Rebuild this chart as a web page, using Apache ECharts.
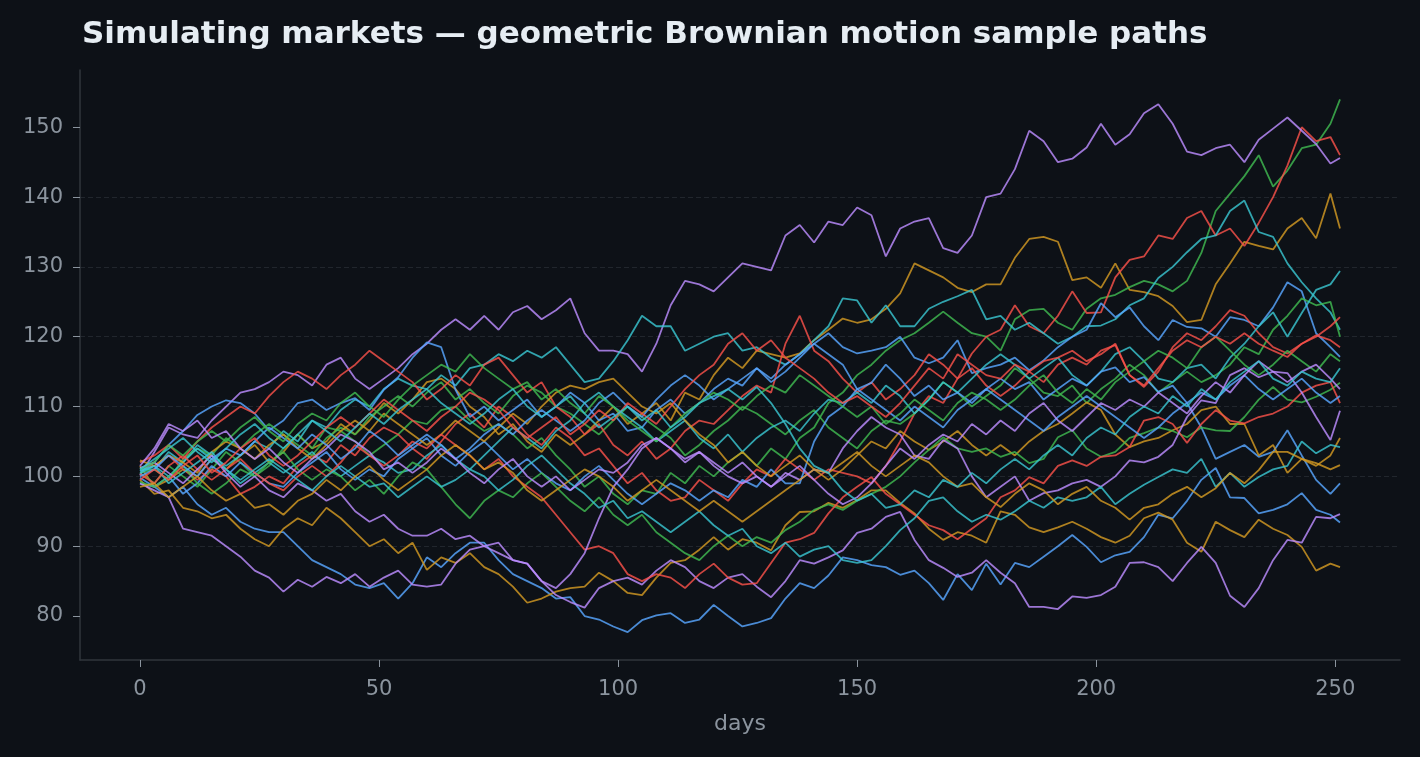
<!DOCTYPE html>
<html>
<head>
<meta charset="utf-8">
<title>GBM sample paths</title>
<script src="https://cdn.jsdelivr.net/npm/echarts@6/dist/echarts.min.js"></script>
<style>
    html, body { margin: 0; padding: 0; background: #0d1117; }
    #chart { width: 1420px; height: 757px; }
</style>
</head>
<body>
<div id="chart"></div>
<script>
var chart = echarts.init(document.getElementById("chart"));

/* sampled days (every 3rd trading day + last one) */
var days = [0,3,6,9,12,15,18,21,24,27,
    30,33,36,39,42,45,48,51,54,57,
    60,63,66,69,72,75,78,81,84,87,
    90,93,96,99,102,105,108,111,114,117,
    120,123,126,129,132,135,138,141,144,147,
    150,153,156,159,162,165,168,171,174,177,
    180,183,186,189,192,195,198,201,204,207,
    210,213,216,219,222,225,228,231,234,237,
    240,243,246,249,251];

var xTicks = [0, 50, 100, 150, 200, 250];
var yTicks = [80, 90, 100, 110, 120, 130, 140, 150];

/* price paths */
var blueA = [99,98.5,97,98.5,96,94.5,95.5,93.5,92.5,92,
    92,90,88,87,86,84.5,84,84.7,82.5,84.7,
    88.4,87,89,90.5,90.5,88,86,85,84,82.5,
    82.7,80,79.5,78.5,77.7,79.4,80.1,80.4,79,79.5,
    81.6,80,78.5,79,79.7,82.5,84.7,84,85.8,88.4,
    88,87.3,87,85.9,86.5,84.7,82.3,86,83.7,87.5,
    84.5,87.6,87,88.5,90,91.6,89.9,87.7,88.7,89.2,
    91.3,94.5,94,96.5,99.5,101.2,97,96.9,94.7,95.2,
    96,97.6,95.2,94.5,93.4];
var goldA = [101.5,98.5,99.5,101,100,102.5,101,103,104.5,102,
    103.5,106,104,105,107.5,106,108,110.5,109,111,
    113.5,114,112.5,110,108.5,106,107.5,105,103.5,106,
    104.5,106,108,110,107.5,109,110.5,108,112,111,
    114.5,117,115.5,118,117.5,117,117.6,119.5,121,122.6,
    122,122.5,124,126.2,130.5,129.5,128.5,127,126.4,127.5,
    127.5,131.3,134,134.3,133.6,128.1,128.5,127,130.5,126.7,
    126.4,125.8,124.4,122.1,122.4,127.5,130.5,133.6,133,132.5,
    135.5,137,134.1,140.5,135.5];
var greenA = [100.5,99,101.5,100,98.5,101,103.5,102,100,101.5,
    104,106,104,107,106.5,105,103,104.5,106,108,
    107.5,109.5,110,108,106.5,107.5,106,104,105.5,103,
    101,98.5,100,97.5,96,98,97.5,100.5,99,101.5,
    100,102,103.5,101.5,104,102.5,105.5,107,110.5,112,
    114.5,116,118,119.5,120.5,122,123.6,122,120.5,120,
    118,122.5,123.8,124,122,121,124,125.5,126,127.1,
    128,127.5,126.5,128,132,138,140.5,143,146,141.5,
    143.8,147,147.5,150.5,154];
var redA = [101,101.5,103,101,99.5,101,100,97.5,98.5,100,
    99,101.5,103,102,104.5,103,105.5,107,106,104,
    102.5,105,107.5,109,107,110,108.5,106,104.5,107,
    105.5,103,104,101.5,99,100.5,98,96.5,97,99.5,
    98,96.5,99,101,100,102.5,101,99.5,101,100.5,
    100,99,101.5,105,109,111.5,110.5,114,117.6,120,
    121,124.5,121.5,120.5,123,126.5,123.4,123.5,128.5,131,
    131.5,134.5,134,137,138,134.5,135.5,133,136.3,140,
    144.5,150,148,148.6,146];
var purpleA = [100.2,103.5,107,106,105.5,108,110,112,112.5,113.5,
    115,114.5,113,116,117,114,112.5,114,115.5,117.5,
    119,121,122.5,121,123,121,123.5,124.4,122.5,123.8,
    125.5,120.5,118,118,117.5,115,119,124.5,128,127.5,
    126.5,128.5,130.5,130,129.5,134.5,136,133.5,136.5,136,
    138.5,137.4,131.5,135.5,136.5,137,132.7,132,134.5,140,
    140.5,144,149.5,148,145,145.5,147.1,150.5,147.5,149,
    152,153.3,150.5,146.5,146,147,147.5,145,148.2,149.8,
    151.4,149.5,147.6,144.8,145.6];
var tealA = [101,101,103.5,102,104.5,103,101.5,103,105,104,
    106.5,105,108,107,109.5,111,110,112.5,114,113,
    112.5,114.5,113,115.5,116,117.5,116.5,118,117,118.5,
    116,113.5,114,116.5,119.5,123,121.5,121.5,118,119,
    120,120.5,118,118.5,117,116,117.5,119.5,121.5,125.5,
    125.2,122,124.5,121.5,121.5,124,125,125.8,126.7,122.5,
    123,121,122,120.5,119,120,121.5,121.6,122.5,124.5,
    125.5,128.4,130,132.1,134,134.5,138,139.5,135,134.3,
    130.5,127.8,125.5,123.5,121];

var blueB = [100.8,102,104.5,106.5,108.8,110,110.9,110.5,109,106.6,
    108,110.5,111,109.5,110.5,111.2,109.5,112.4,114.2,117,
    119.2,118.5,112.4,108.5,110,108,109.5,111,108.5,110,
    112,110.5,108,109,106.5,107,109.5,111,109,110.5,
    112.5,114,113,115.5,114,116,117.5,119,120.5,118.5,
    117.6,118,118.5,120,117,116.2,117,119.5,114.8,115.5,
    116,117,115.2,116.6,118.5,120,121,124.8,122.8,124.2,
    121.5,119.5,122.4,121.4,121.2,120,122.8,122.4,121.5,124.2,
    127.8,126.5,120.5,118.5,117.1];
var goldB = [99.5,97.5,98,95.5,95,94,94.5,92.5,91,90,
    92.5,94,93,95.5,94,92,90,91,89,90.5,
    86.6,88.4,87.6,89,87,86,84.2,81.9,82.5,83.5,
    84,84.2,86.2,85,83.3,83,85.5,87.6,88,89.5,
    91.3,89.5,91,90.5,89.4,93,94.9,95,96.2,95.5,
    96.6,98,98,96.2,94.7,92.5,90.9,92,91.5,90.5,
    95,94.5,92.7,92,92.7,93.5,92.5,91.3,90.5,91.5,
    94,94.8,93.8,90.5,89.2,93.5,92.3,91.3,93.8,92.5,
    91.6,89.9,86.5,87.5,87];
var greenB = [100.5,101,99.5,102.5,104,103,105.5,104,106,107.5,
    106,104.5,103,105.5,107,106,108.5,110,111.5,110,
    112,113.5,111,112.5,110.5,109,111.5,113,112,110,
    109,107.5,106,108,110,108.5,107,105.5,103,104.5,
    106.5,108,110,109,107.5,106,108,109.5,107,105.5,
    104,106.5,108,107.5,109,111,113.5,112,110,111.5,
    113,115.5,114,112,111.5,113,110.5,112.5,114,116,
    114.5,112,113.5,115,113.5,114.5,116,118.5,117.5,121,
    123,125.5,124.5,125,120];
var redB = [102,103,104.5,102.5,105,107,108.5,110,109,111.5,
    113.5,115,114,112.5,114.5,116,118,116.5,115,113.5,
    111,112.5,114.5,113,116,117,114.5,112,113.5,110,
    108.5,106,107.5,104.5,103,105,102.5,104,106.5,108,
    107.5,109.5,111.5,113,112,119,123,118,116.5,114,
    112,113.5,111,112.5,114.5,117.5,116,114,115.5,113,
    111.5,113,115,113.5,116,117,116,118,118.8,114.5,
    112.8,115,118.5,120.5,119.5,121.5,123.8,123,120.5,118.5,
    117.6,119,120,121.5,122.8];
var purpleB = [99,98,97,92.5,92,91.5,90,88.5,86.5,85.5,
    83.5,85.2,84.2,85.6,84.7,86,84.2,85.5,86.5,84.5,
    84.2,84.5,87.5,89.5,90,89,88,87.5,85,83,
    82,81.2,84,85,85.5,84.5,86.5,88,87,85,
    84,85.5,86,84.2,82.7,85,88,87.5,88.4,89.4,
    91.9,92.5,94.2,94.9,90.9,88,86.9,85.6,86.2,88,
    86.2,84.7,81.3,81.3,81,82.8,82.6,83,84.2,87.6,
    87.7,87,85,87.6,89.9,87.6,82.9,81.3,84,88,
    90.9,90.5,94.2,94,94.6];
var cyanB = [100.5,101.5,100,102,104,102.5,101,99,100.5,102,
    100.5,102,103.5,101.5,100,101.5,103,102,100.5,101,
    103,104.5,102.5,101,103,105,107,105.5,104,106.5,
    108,110.5,112,110,108.5,107,105,106.5,108,105.5,
    104,106,103.5,105.5,107,108,106.5,109,111,110.5,
    112,110.5,113,111.5,109,111,113.5,112,114,116,
    117.5,116,114,115.5,117,114.5,113,115,117.5,118.5,
    116.5,114,113.5,115.5,116,114,117,119,121.5,123.5,
    120,123.4,126.7,127.5,129.4];

var blueC = [99.8,98.5,100,97.5,99,101.5,100,102,100.5,99,
    98.5,100.5,102,103.5,101,99.5,101,100,102.5,104,
    105.5,103,101.5,103.5,105,103,101,102.5,100.5,99,
    98,100,101.5,99.5,97.5,96,97.5,99,98,96.5,
    98,97,99.5,98.5,101,99,99,105,108.5,110,
    112.5,113.4,116,114,111.5,113,111,112,110.5,112.5,
    114,112.5,113.5,111,112.5,114,113,115,115.6,113.5,
    114.2,112.1,113,110.5,107,102.5,103.5,104.5,102.8,103.5,
    106.6,103,99.5,97.5,99];
var goldC = [102.3,101.5,103,102,100.5,103.5,105,104,102.5,104.5,
    106,104,102.5,104.5,106.5,108,106.5,109,107.5,106,
    104.5,106,108,106.5,105,107,109,107.5,110,112,
    113,112.5,113.5,114,112,110,109,110.5,108,106,
    104.5,102,103.5,101.5,100,101.5,103,101,99.5,101,
    103,105,104,106.5,105,103.8,105,106.5,104.5,103,
    104.5,103,105,106.5,107.5,109,110.6,109.5,106,104.2,
    105,105.5,106.6,107.5,109.5,110,107.5,107.5,103,104.5,
    100.5,102.5,101.5,103,105.5];
var greenC = [99.2,98.5,100,101.5,99,97.5,99,101,100,102,
    103.5,101,99.5,101,100,98,99.5,97.5,100,102,
    101,98.5,96,94,96.5,98,97,99,100.5,98.5,
    96.5,95,97,94.5,93,94.5,92,90.5,89,88,
    90,91.5,90,91.3,90.5,92.3,93.5,95.2,96,95.2,
    96.5,97.5,98.5,100,102,103.8,105.6,104,103.5,104,
    102.8,103.5,101.9,102.5,105.6,106.6,104,102.8,103.5,105.5,
    106.2,107,106.5,105.6,107,106.6,106.5,108.5,111,112.8,
    111,110.6,111.4,112.4,113.4];
var redC = [100.3,99,101.5,103,101,99.5,101,102.5,100.5,99,
    98,100,101.5,100,102,104.5,103,101.5,103,105,
    104,106,104.5,103,101,102.5,100,98.5,97,94.5,
    92,89.5,90,89,86,85,86,85.5,84,86,
    87.5,85.5,84.5,84.7,87.6,90.5,91,91.9,94.7,97,
    98.5,99.9,97.5,96,94.5,93,92.3,91,92.5,94,
    97,98,99.9,99,101.5,102.3,101.5,102.8,103,104.2,
    108,108.5,107.5,104.8,107.5,109.5,108,107.6,108.5,109,
    110,112,113,113.5,110.5];
var purpleC = [101.2,102,100.5,99,101,103,100.5,98.5,100,98,
    97,99,98,96.5,97.5,95,93.5,94.5,92.5,91.5,
    91.5,92.5,91,91.5,90,90.5,88,87.5,85,84,
    86,89,94,98.5,101,104,105.5,104,102,103.5,
    101.5,100,99,100,98.5,100.5,99.5,101,100.5,104,
    106.5,108.5,107,106,103,102.5,105.2,104,100,97,
    98.5,100,96.5,97.6,98,99,99.5,98.5,100,102.3,
    102,102.8,104.5,108.5,110.9,110.5,114.5,115.5,114.2,115,
    114.8,112,108.5,105.2,109.4];
var tealC = [100.8,101.5,99,100.5,102,103.5,101,99.5,101,102.5,
    101,99.5,98,100,101.5,100,98.5,99,97,98.5,
    100,98.5,99.5,101,100,98,99.5,101.5,103,101,
    99,97.5,95.5,96.5,94,95,93.5,92,93.5,95,
    93,91.5,92.5,90,89,90.5,88.5,89.5,90,88,
    87.6,88,90,92.3,94,96.5,97,95,93.5,94.5,
    93.8,95,96.5,95.5,97,96.5,97,98.5,96,97.5,
    98.8,99.9,101,100.5,102.5,98.5,100.5,98.5,99.9,101,
    101.5,105,103.3,104.5,104.2];

var blueD = [100,101,103,101.5,100,102.5,104,103,105,107,
    105.5,104,106,104.5,102.5,104,106.5,105,103,104.5,
    106,104.5,102.5,104,106,107.5,106,108,109.5,108,
    106.5,108,110.5,112,110,108.5,111,113,114.5,113,
    111,112.5,114,115.5,113.5,115,117,119,117.5,116,
    112.5,111,109.5,108,110,108.5,107,109.5,111,112.5,
    111,109.5,108,106.5,108.5,110,111.5,110,108.5,107,
    105.5,107,109,110.5,112,111,113,114.5,112.5,111,
    112.5,114,112,110.5,111.5];
var goldD = [98.5,99,97,98.5,100,98,96.5,97.5,95.5,96,
    94.5,96.5,97.5,99.5,98,100,101.5,99.5,98,99.5,
    101,103,104.5,103,101,102,100.5,98,96.5,98,
    99.5,101,100,98.5,96.5,98,99.5,98,96.5,95,
    96.5,95,93.5,95,96.5,98,99.5,101,100.5,102,
    103.5,101.5,100,101.5,103,102,100,98.5,99,97,
    95.6,97.5,99,98,96,97.5,98.5,96.5,95.5,93.8,
    95.5,96,97.5,98.5,97,98.3,100.5,99,100.9,103.5,
    103.5,102.5,101.9,101,101.6];
var greenD = [101,102,104.5,103,105,106.5,105,107,108.5,106.5,
    105,107.5,109,108,110.5,112,110,108.5,111,113,
    114.5,116,115,117.5,115.5,114,112.5,113.5,111,112.5,
    110.5,109,111.5,110,108,106.5,105,107,109,110.5,
    112,111,109.5,111.5,113,112,114.5,113,111.5,110,
    108.5,110,107.5,109,111,109.5,108,110.5,112,111,
    109.5,111,113,114.5,112,110.5,112.5,111,113.5,115,
    116.5,118,117,115.5,118.5,120,118,116,114.5,116,
    118,116.5,115,117.5,116.5];
var redD = [99.5,101,99.5,101.5,103,100.5,102,104,105.5,103,
    101.5,103,105,107,108.5,107,109,111,109.5,108,
    106.5,108.5,110,112,111,109.5,107,105.5,107,108.5,
    106,107.5,109.5,108,110.5,109,107.5,110,112.5,114.5,
    116,119,120.5,118,119.5,117,115.5,114,112,110.5,
    111.5,110,108.5,110.5,113,115.5,114,117.5,116,114.5,
    114,116,115,116.5,117,118,116.5,117.5,119,114.5,
    113,115.5,118,119.5,118.5,120,119,120.5,119,118,
    117.1,119,120.2,119.5,118.5];
var purpleD = [101.5,104,107.5,106.5,108,105.5,106.5,104,102.5,104,
    102,100.5,102.5,104,106,105,103.5,101,102,100.5,
    102,104,102.5,100.5,99,101,102.5,100,98.5,100,
    98,99.5,101,100.5,102,104.5,105.5,104,102.5,103.5,
    102,100.5,102,100,98.5,100,101.5,99.5,97.5,96,
    97,99,101.5,104,102.5,104.5,106,105,107.5,106,
    108,106.5,109,110.5,108,106.5,108.5,110.5,109.5,111,
    110,112,110.5,109,111.5,113.5,112,114.5,116.5,115,
    113.5,115,116,114,112.5];
var tealD = [101,102.5,104,105.5,103.5,102,104,106,107.5,105.5,
    104,106,108,106.5,105,107,109,107.5,109.5,111,
    112.5,110.5,109,107.5,109,111,112.5,110,108.5,110,
    111.5,109,107,108.5,110,108,109.5,107,108.5,110.5,
    111.5,112.5,111,112.8,110.5,107.5,104,101.5,100.5,98,
    96.5,97.5,95.5,96,98,97,99.5,98.5,100.5,99,
    101,102.5,101,103,104.5,103,105.5,107,106,108.5,
    110,109,111.5,110,112.5,111,113.5,115,116.5,114,
    113,115,114,113.5,115.5];

var colors = {
    blue: '#58a6ff',
    gold: '#d29922',
    green: '#3fb950',
    red: '#f85149',
    purple: '#bc8cff',
    teal: '#39c5cf'
};

var paths = [
    [blueA, 'blue'], [goldA, 'gold'], [greenA, 'green'], [redA, 'red'], [purpleA, 'purple'], [tealA, 'teal'],
    [blueB, 'blue'], [goldB, 'gold'], [greenB, 'green'], [redB, 'red'], [purpleB, 'purple'], [cyanB, 'teal'],
    [blueC, 'blue'], [goldC, 'gold'], [greenC, 'green'], [redC, 'red'], [purpleC, 'purple'], [tealC, 'teal'],
    [blueD, 'blue'], [goldD, 'gold'], [greenD, 'green'], [redD, 'red'], [purpleD, 'purple'], [tealD, 'teal']
];

function toPoints(values) {
    var pts = [];
    for (var i = 0; i < values.length && i < days.length; i++) {
        pts.push([days[i], values[i]]);
    }
    return pts;
}

var series = [];
for (var i = 0; i < paths.length; i++) {
    series.push({
        type: 'line',
        data: toPoints(paths[i][0]),
        showSymbol: false,
        symbol: 'none',
        silent: true,
        lineStyle: {
            color: colors[paths[i][1]],
            width: 1.8,
            opacity: 0.82
        }
    });
}

var tickFont = 'DejaVu Sans';

var option = {
    backgroundColor: '#0d1117',
    animation: false,
    title: {
        text: 'Simulating markets \u2014 geometric Brownian motion sample paths',
        left: 77,
        top: 14,
        textStyle: {
            color: '#e6edf3',
            fontFamily: tickFont,
            fontWeight: 'bold',
            fontSize: 31
        }
    },
    grid: {
        left: 80,
        right: 20,
        top: 70,
        bottom: 97
    },
    xAxis: {
        type: 'value',
        min: -12.55,
        max: 263.55,
        name: 'days',
        nameLocation: 'middle',
        nameGap: 53,
        nameTextStyle: {
            color: '#8b949e',
            fontFamily: tickFont,
            fontSize: 22
        },
        axisLine: {
            show: true,
            lineStyle: { color: '#30363d', width: 1.5 }
        },
        axisTick: {
            show: true,
            length: 7,
            customValues: xTicks,
            lineStyle: { color: '#8b949e', width: 1 }
        },
        axisLabel: {
            color: '#8b949e',
            fontFamily: tickFont,
            fontSize: 21,
            margin: 19,
            customValues: xTicks
        },
        splitLine: { show: false }
    },
    yAxis: {
        type: 'value',
        min: 73.7,
        max: 158.2,
        splitNumber: 8,
        axisLine: {
            show: true,
            onZero: false,
            lineStyle: { color: '#30363d', width: 1.5 }
        },
        axisTick: {
            show: true,
            length: 7,
            customValues: yTicks,
            lineStyle: { color: '#8b949e', width: 1 }
        },
        axisLabel: {
            color: '#8b949e',
            fontFamily: tickFont,
            fontSize: 21,
            margin: 17,
            customValues: yTicks
        },
        splitLine: {
            show: true,
            showMinLine: false,
            showMaxLine: false,
            lineStyle: { color: '#21262d', width: 1, type: [5, 3] }
        }
    },
    series: series
};

chart.setOption(option);
</script>
</body>
</html>
